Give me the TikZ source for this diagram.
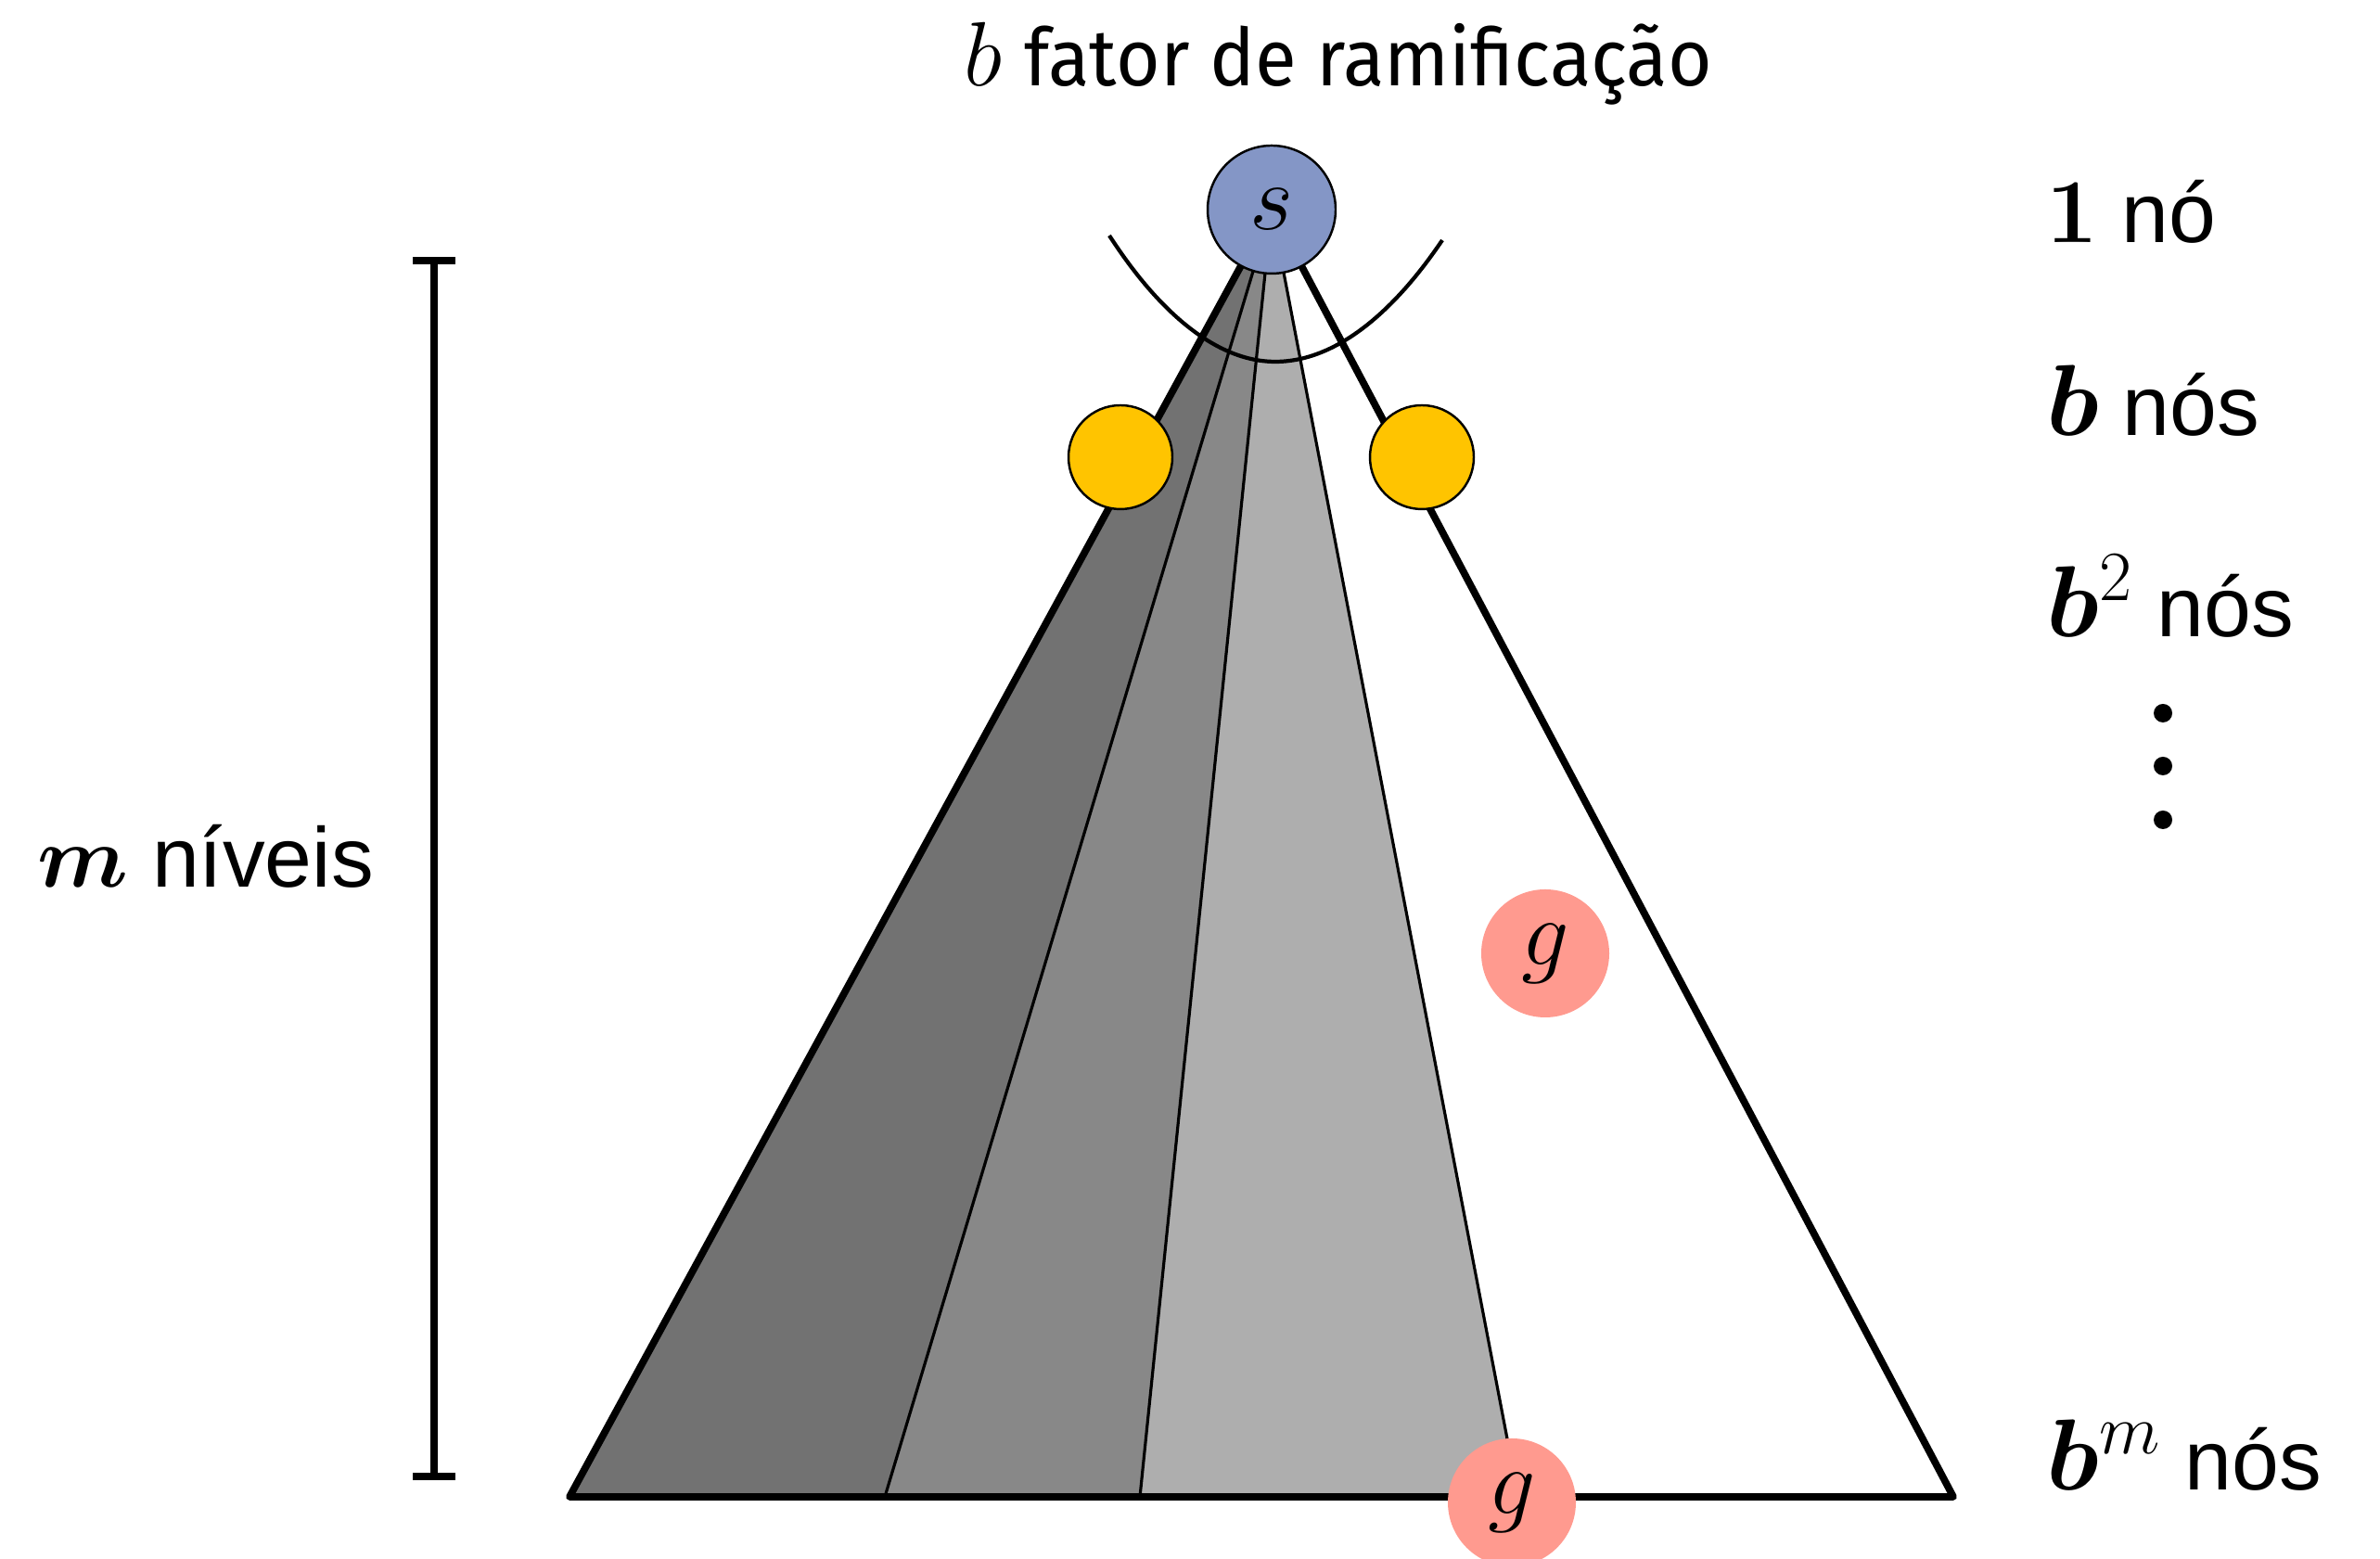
\RequirePackage{fix-cm}
\documentclass[tikz,border=0pt]{standalone}
\usepackage{amsmath, amssymb}
\usepackage{bm}
\usepackage[no-math]{fontspec}
\setmainfont{Liberation Sans}
\newfontfamily\titlefont[FakeStretch=0.95]{Fira Sans}
\usepackage{tikz}

\definecolor{sblue}{RGB}{132,150,198}
\definecolor{ygold}{RGB}{255,196,0}
\definecolor{gsalmon}{RGB}{255,154,143}
\definecolor{shadeA}{RGB}{114,114,114}
\definecolor{shadeB}{RGB}{136,136,136}
\definecolor{shadeC}{RGB}{174,174,174}

\newcommand{\mv}[1]{{\fontsize{31}{34}\selectfont$#1$}}

\begin{document}
\begin{tikzpicture}[
    start/.style={circle, draw=black, line width=0.7pt, fill=sblue, minimum size=1.38cm, inner sep=0pt, font=\fontsize{29}{30}\selectfont},
    frontier/.style={circle, draw=black, line width=0.7pt, fill=ygold, minimum size=1.12cm, inner sep=0pt},
    goal/.style={circle, fill=gsalmon, minimum size=1.38cm, inner sep=0pt, font=\fontsize{29}{30}\selectfont},
    edge/.style={line width=2.2pt},
    split/.style={line width=0.9pt},
    bar/.style={line width=2.3pt},
    lbl/.style={anchor=base west, inner sep=0pt, font=\fontsize{26}{30}\selectfont}
  ]
  \useasboundingbox (0,0) rectangle (25.66,16.81);

  % Corners of the tree
  \coordinate (apex) at (13.71,14.55);
  \coordinate (bl) at (6.14,0.67);
  \coordinate (br) at (21.06,0.67);
  \coordinate (d1) at (9.54,0.67);
  \coordinate (d2) at (12.29,0.67);
  \coordinate (d3) at (16.37,0.67);

  % Explored parts
  \fill[shadeA] (apex) -- (bl) -- (d1) -- cycle;
  \fill[shadeB] (apex) -- (d1) -- (d2) -- cycle;
  \fill[shadeC] (apex) -- (d2) -- (d3) -- cycle;
  \draw[split] (apex) -- (d1);
  \draw[split] (apex) -- (d2);
  \draw[split] (apex) -- (d3);

  % Outline
  \draw[edge, line join=round] (apex) -- (bl) -- (br) -- cycle;

  % Branching arc
  \coordinate (arcL) at (11.96,14.27);
  \coordinate (arcB) at (13.75,12.91);
  \coordinate (arcR) at (15.55,14.22);
  \draw[line width=1.2pt] (arcL) parabola bend (arcB) (arcR);

  % Nodes
  \node[start] (s) at (apex) {$s$};
  \node[frontier] (y1) at (12.08,11.88) {};
  \node[frontier] (y2) at (15.33,11.88) {};
  \node[goal] (g1) at (16.66,6.53) {$g$};
  \node[goal] (g2) at (16.30,0.61) {$g$};

  % Depth bar
  \coordinate (barT) at (4.68,14.00);
  \coordinate (barB) at (4.68,0.89);
  \draw[bar] (barT) -- (barB);
  \draw[bar] ([xshift=-0.23cm]barT) -- ([xshift=0.23cm]barT);
  \draw[bar] ([xshift=-0.23cm]barB) -- ([xshift=0.23cm]barB);
  \node[lbl] (depth) at (0.40,7.24) {{\fontsize{27}{30}\selectfont$\bm{m}$} níveis};

  % Title
  \node[anchor=base, inner sep=0pt, font=\fontsize{24.5}{28}\selectfont] (title) at (14.43,15.88)
    {{\fontsize{28}{30}\selectfont$b$} {\titlefont fator de ramificação}};

  % Level counts
  \node[lbl] (n0) at (22.06,14.19) {{\fontsize{28}{30}\selectfont$\mathbf{1}$} nó};
  \node[lbl] (n1) at (22.06,12.11) {\mv{\bm{b}} nós};
  \node[lbl] (n2) at (22.06,9.94) {\mv{\bm{b}^2} nós};
  \foreach \y in {9.12,8.55,7.97}
    \fill (23.32,\y) circle (0.1);
  \node[lbl] (nm) at (22.06,0.74) {\mv{\bm{b}^{m}} nós};
\end{tikzpicture}
\end{document}
